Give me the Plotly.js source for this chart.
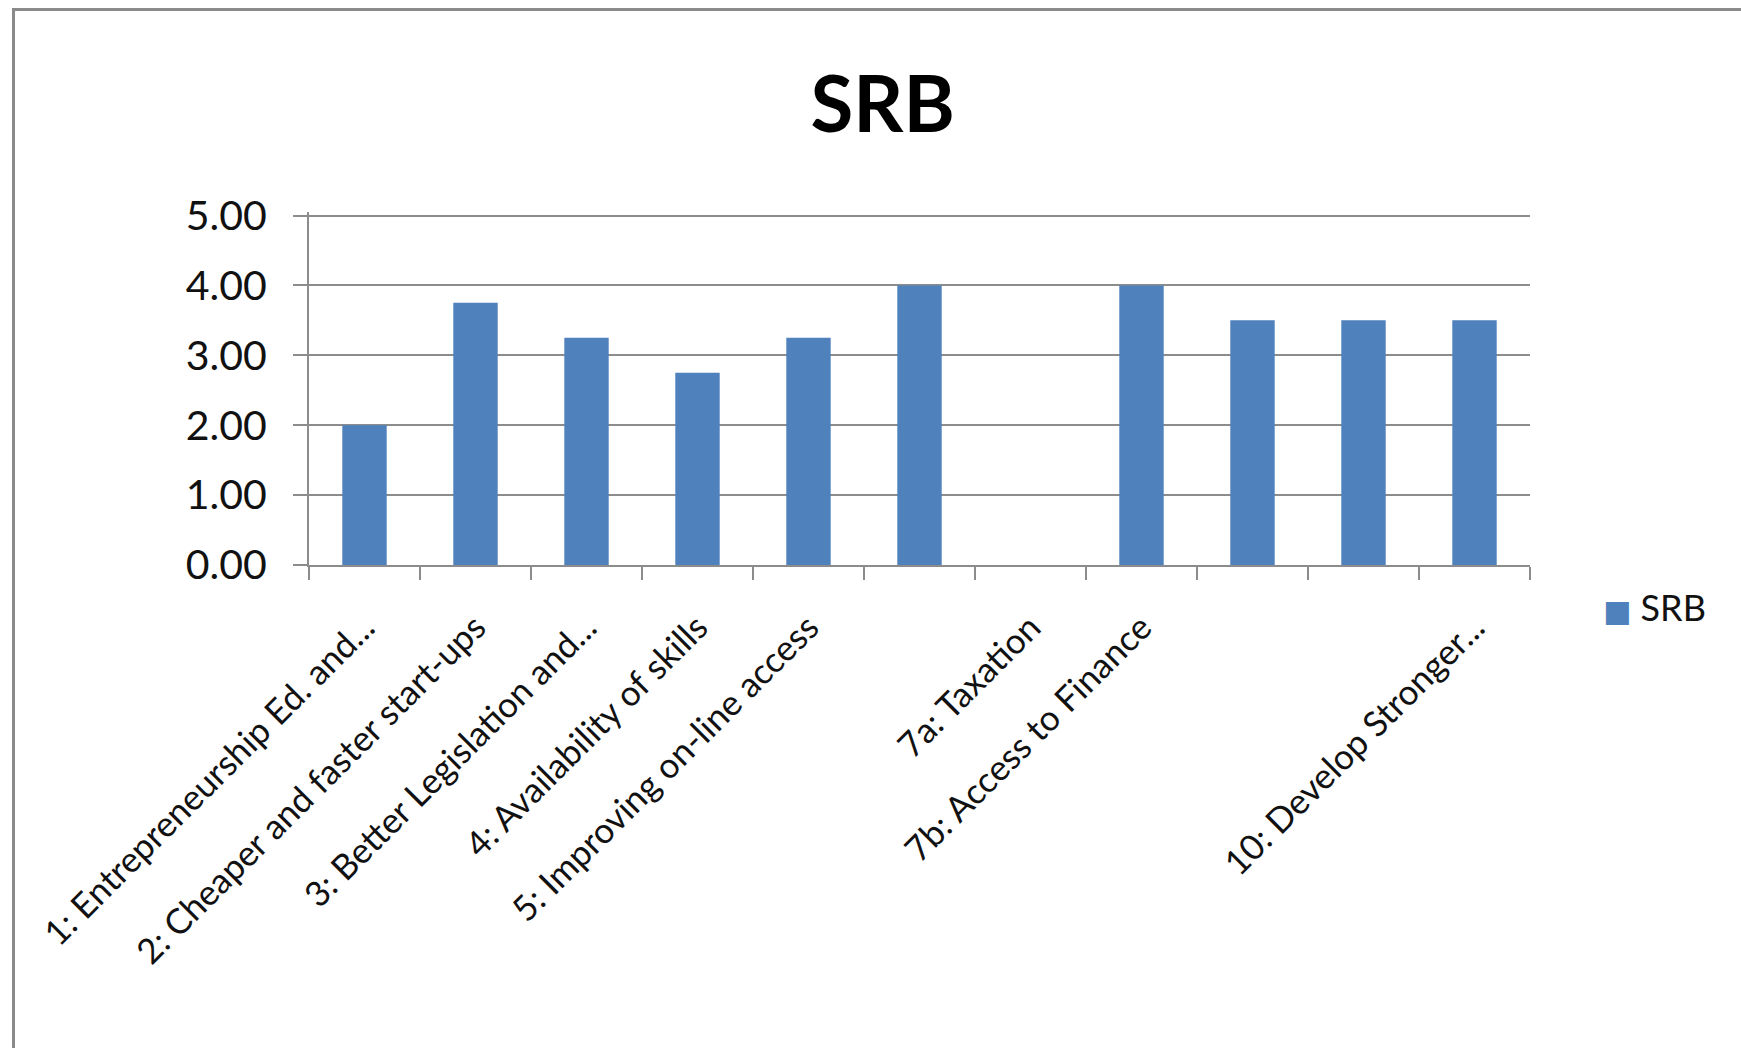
<!DOCTYPE html>
<html>
<head>
<meta charset="utf-8">
<script src="https://cdn.plot.ly/plotly-3.0.1.min.js"></script>
<style>
  html, body { margin: 0; padding: 0; background: #fff; overflow: hidden; }
  #wrap { position: relative; width: 1741px; height: 1048px; }
  #chart { position: absolute; left: 0; top: 0; width: 1741px; height: 1048px; }
  #frame { position: absolute; left: 12px; top: 8px; width: 1800px; height: 1100px;
           border-left: 3px solid #8a8a8a; border-top: 3px solid #8a8a8a; pointer-events: none; }
</style>
</head>
<body>
<div id="wrap">
  <div id="chart"></div>
  <div id="frame"></div>
</div>
<script>
const chartTitle = "SRB";
const seriesName = "SRB";
const categories = [
  "1: Entrepreneurship Ed. and...",
  "2: Cheaper and faster start-ups",
  "3: Better Legislation and...",
  "4: Availability of skills",
  "5: Improving on-line access",
  "6",
  "7a: Taxation",
  "7b: Access to Finance",
  "8",
  "9",
  "10: Develop Stronger..."
];
const tickLabels = [
  "1: Entrepreneurship Ed. and...",
  "2: Cheaper and faster start-ups",
  "3: Better Legislation and...",
  "4: Availability of skills",
  "5: Improving on-line access",
  "",
  "7a: Taxation",
  "7b: Access to Finance",
  "",
  "",
  "10: Develop Stronger..."
];
const values = [2.00, 3.75, 3.25, 2.75, 3.25, 4.00, 0.00, 4.00, 3.50, 3.50, 3.50];
const yTicks = [0, 1, 2, 3, 4, 5];

const font = "Lato, 'Open Sans', 'Liberation Sans', sans-serif";
const barColor = "#4F81BD";
const axisGray = "#8c8c8c";

const trace = {
  type: "bar",
  name: seriesName,
  x: categories,
  y: values,
  marker: { color: barColor },
  showlegend: false,
  hoverinfo: "x+y"
};

const yMax = yTicks[yTicks.length - 1];

const layout = {
  width: 1741,
  height: 1048,
  paper_bgcolor: "rgba(0,0,0,0)",
  plot_bgcolor: "#ffffff",
  margin: { l: 309, r: 211, t: 212, b: 483 },
  bargap: 0.6,
  showlegend: false,
  title: {
    text: "<b>" + chartTitle + "</b>",
    x: 0.507, xanchor: "center",
    y: 0.9, yanchor: "middle",
    font: { family: font, size: 78, color: "#000" }
  },
  xaxis: {
    type: "category",
    tickvals: categories,
    ticktext: tickLabels,
    tickangle: -45,
    tickson: "boundaries",
    ticks: "outside",
    ticklen: 13,
    tickwidth: 2,
    tickcolor: axisGray,
    showline: true,
    linecolor: axisGray,
    linewidth: 2,
    showgrid: false,
    zeroline: false,
    ticklabelstandoff: 26,
    tickfont: { family: font, size: 35, color: "#111" },
    range: [-0.5, 10.5]
  },
  yaxis: {
    range: [0, yMax * 1.01],
    tickvals: yTicks,
    tickformat: ".2f",
    ticks: "outside",
    ticklen: 14,
    tickwidth: 2,
    tickcolor: axisGray,
    showline: true,
    linecolor: axisGray,
    linewidth: 2,
    showgrid: true,
    gridcolor: axisGray,
    gridwidth: 2,
    zeroline: false,
    ticklabelstandoff: 18,
    tickfont: { family: font, size: 41, color: "#111" }
  },
  annotations: [{
    xref: "paper", yref: "paper",
    x: 1.058, xanchor: "left",
    y: -0.12, yanchor: "middle",
    showarrow: false,
    align: "left",
    text: '<span style="color:' + barColor + ';font-family:\'DejaVu Sans\';font-size:30px">■</span> ' + seriesName,
    font: { family: font, size: 36, color: "#111" }
  }]
};

Plotly.newPlot("chart", [trace], layout, { displayModeBar: false, staticPlot: true });
</script>
</body>
</html>
